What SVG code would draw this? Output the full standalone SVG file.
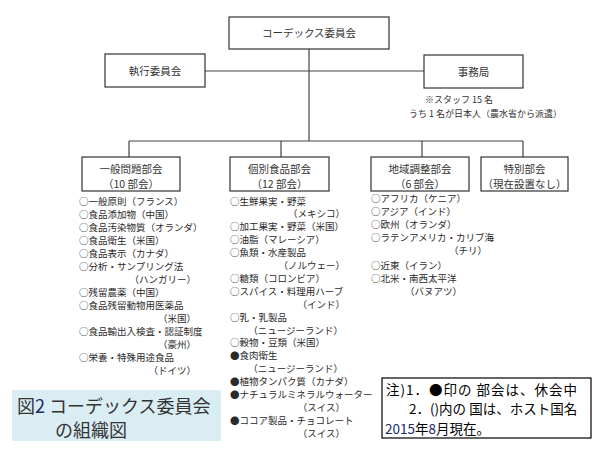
<svg xmlns="http://www.w3.org/2000/svg" width="600" height="450" viewBox="0 0 600 450">
<style>
.box{fill:#fff;stroke:#333;stroke-width:1.2}
.ln{stroke:#444;stroke-width:1.2;fill:none}
.t{font-family:"Noto Sans CJK JP","Noto Sans",sans-serif;fill:#333}
.bt{font-size:10.5px;text-anchor:middle}
.li{font-size:9.5px;fill:#2a2a2a}
.r{text-anchor:end}
.cap{font-size:18px;fill:#333}
.nt{font-size:13.5px;fill:#000}
.num{font-family:"Noto Sans CJK JP","Noto Sans",sans-serif;fill:#1a2a6a}
</style>
<rect width="600" height="450" fill="#fff"/>
<g id="connectors">
<line class="ln" x1="309" y1="49" x2="309" y2="141"/>
<line class="ln" x1="205" y1="71" x2="424" y2="71"/>
<line class="ln" x1="129" y1="141" x2="523" y2="141"/>
<line class="ln" x1="129" y1="141" x2="129" y2="157"/>
<line class="ln" x1="281" y1="141" x2="281" y2="157"/>
<line class="ln" x1="422" y1="141" x2="422" y2="157"/>
<line class="ln" x1="523" y1="141" x2="523" y2="157"/>
</g>
<g id="codex">
<rect class="box" x="229" y="17" width="160" height="32"/>
<text class="t bt" x="309" y="37">コーデックス委員会</text>
</g>
<g id="executive">
<rect class="box" x="105" y="54" width="100" height="33"/>
<text class="t bt" x="155" y="74.5">執行委員会</text>
</g>
<g id="secretariat">
<rect class="box" x="424" y="55" width="99" height="33"/>
<text class="t bt" x="473.5" y="75.5">事務局</text>
<text class="t" font-size="9" x="425" y="103">※スタッフ 15 名</text>
<text class="t" font-size="9" x="409" y="117">うち 1 名が日本人（農水省から派遣）</text>
</g>
<g id="general">
<rect class="box" x="82" y="157" width="98" height="34"/>
<text class="t bt" x="131" y="172.5">一般問題部会</text>
<text class="t bt" x="131" y="187.5">（10 部会）</text>
<g class="t li">
<text x="79" y="204.5">○一般原則（フランス）</text>
<text x="79" y="217.5">○食品添加物（中国）</text>
<text x="79" y="230.5">○食品汚染物質（オランダ）</text>
<text x="79" y="243.5">○食品衛生（米国）</text>
<text x="79" y="256.5">○食品表示（カナダ）</text>
<text x="79" y="269.5">○分析・サンプリング法</text>
<text class="r" x="196" y="282.5">（ハンガリー）</text>
<text x="79" y="295.5">○残留農薬（中国）</text>
<text x="79" y="308.5">○食品残留動物用医薬品</text>
<text class="r" x="196" y="321.5">（米国）</text>
<text x="79" y="334.5">○食品輸出入検査・認証制度</text>
<text class="r" x="196" y="347.5">（豪州）</text>
<text x="79" y="360.5">○栄養・特殊用途食品</text>
<text class="r" x="196" y="373.5">（ドイツ）</text>
</g>
</g>
<g id="commodity">
<rect class="box" x="230" y="157" width="99" height="34"/>
<text class="t bt" x="279.5" y="172.5">個別食品部会</text>
<text class="t bt" x="279.5" y="187.5">（12 部会）</text>
<g class="t li">
<text x="230" y="204.5">○生鮮果実・野菜</text>
<text class="r" x="345" y="217.4">（メキシコ）</text>
<text x="230" y="230.3">○加工果実・野菜（米国）</text>
<text x="230" y="243.2">○油脂（マレーシア）</text>
<text x="230" y="256.1">○魚類・水産製品</text>
<text class="r" x="345" y="269">（ノルウェー）</text>
<text x="230" y="281.9">○糖類（コロンビア）</text>
<text x="230" y="294.8">○スパイス・料理用ハーブ</text>
<text class="r" x="345" y="307.7">（インド）</text>
<text x="230" y="320.6">○乳・乳製品</text>
<text class="r" x="343" y="333.5">（ニュージーランド）</text>
<text x="230" y="346.4">○穀物・豆類（米国）</text>
<text x="230" y="359.3">●食肉衛生</text>
<text class="r" x="343" y="372.2">（ニュージーランド）</text>
<text x="230" y="385.1">●植物タンパク質（カナダ）</text>
<text x="230" y="398">●ナチュラルミネラルウォーター</text>
<text class="r" x="345" y="410.9">（スイス）</text>
<text x="230" y="423.8">●ココア製品・チョコレート</text>
<text class="r" x="345" y="436.7">（スイス）</text>
</g>
</g>
<g id="regional">
<rect class="box" x="371" y="157" width="98" height="34"/>
<text class="t bt" x="420" y="172.5">地域調整部会</text>
<text class="t bt" x="420" y="187.5">（6 部会）</text>
<g class="t li">
<text x="371" y="202">○アフリカ（ケニア）</text>
<text x="371" y="215">○アジア（インド）</text>
<text x="371" y="228">○欧州（オランダ）</text>
<text x="371" y="241">○ラテンアメリカ・カリブ海</text>
<text class="r" x="487" y="254">（チリ）</text>
<text x="371" y="269">○近東（イラン）</text>
<text x="371" y="282">○北米・南西太平洋</text>
<text x="405" y="295">（バヌアツ）</text>
</g>
</g>
<g id="special">
<rect class="box" x="481" y="157" width="87" height="34"/>
<text class="t bt" x="524.5" y="172.5">特別部会</text>
<text class="t bt" x="524.5" y="187.5">（現在設置なし）</text>
</g>
<g id="caption">
<rect x="12" y="390" width="209" height="51" fill="#daedf3"/>
<text class="t cap" x="17" y="413">図<tspan class="num">2</tspan> コーデックス委員会</text>
<text class="t cap" x="55" y="437">の組織図</text>
</g>
<g id="note">
<rect x="382" y="378" width="209" height="60" fill="#fff" stroke="#000" stroke-width="1.2"/>
<text class="t nt" x="386" y="394.5" letter-spacing="1">注)1．●印の 部会は、休会中</text>
<text class="t nt" x="409" y="414">2．()内の 国は、ホスト国名</text>
<text class="t nt" x="385" y="433.5"><tspan class="num">2015</tspan>年<tspan class="num">8</tspan>月現在。</text>
</g>
</svg>
